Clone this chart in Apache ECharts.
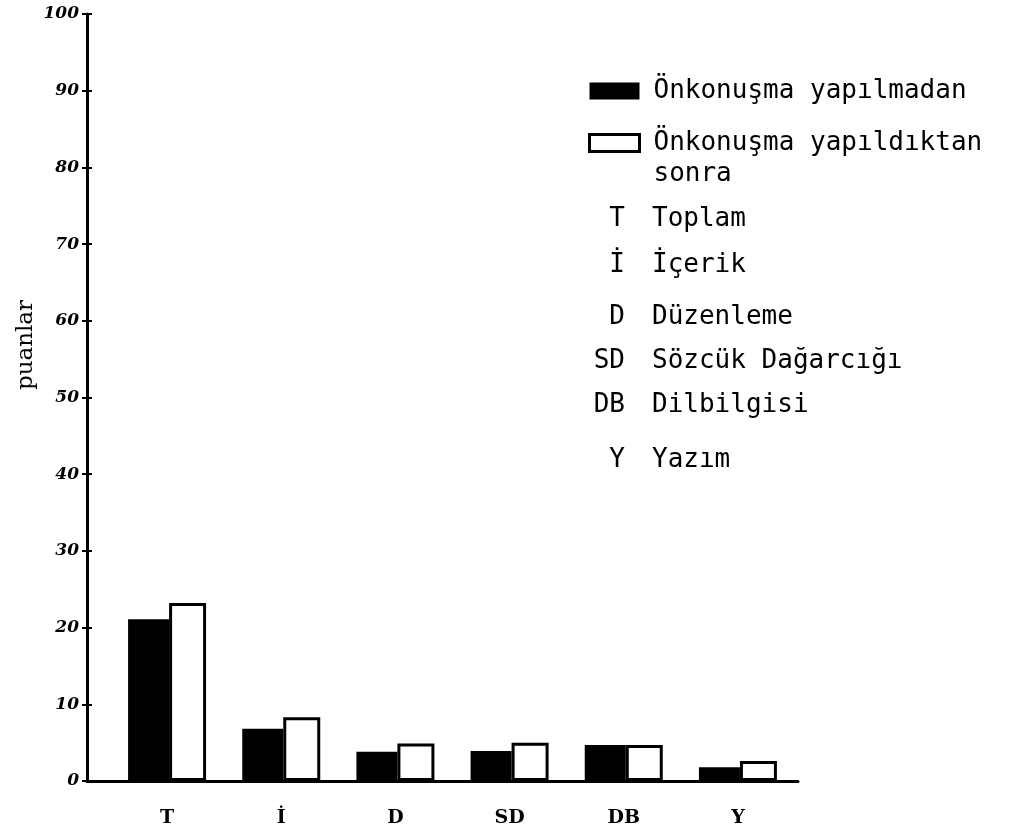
<!DOCTYPE html>
<html>
<head>
<meta charset="utf-8">
<script src="https://cdn.jsdelivr.net/npm/echarts@6/dist/echarts.min.js"></script>
<style>
html,body{margin:0;padding:0;background:#fff;}
#chart{width:1015px;height:836px;}
</style>
</head>
<body>
<div id="chart"></div>
<script>
// ---- data ----
const categories = ['T', 'İ', 'D', 'SD', 'DB', 'Y'];
const seriesNames = ['Önkonuşma yapılmadan', 'Önkonuşma yapıldıktan sonra'];
const valuesBefore = [21.1, 6.8, 3.8, 3.9, 4.7, 1.8];
const valuesAfter = [23.2, 8.3, 4.9, 5.0, 4.7, 2.6];
const abbreviations = ['T', 'İ', 'D', 'SD', 'DB', 'Y'];
const abbreviationNames = ['Toplam', 'İçerik', 'Düzenleme', 'Sözcük Dağarcığı', 'Dilbilgisi', 'Yazım'];
const yAxisTitle = 'puanlar';
const yMin = 0, yMax = 100, yStep = 10;

// ---- layout ----
const axisLeft = 87, plotLeft = 110, plotRightEdge = 795, axisRightEdge = 798;
const plotTop = 14, baseY = 781;
const W = 1015, H = 836;
const legendFont = 'DejaVu Sans Mono';
const legendSize = 26;
const abbrRowsY = [219, 265, 317, 361, 405, 460];

const chart = echarts.init(document.getElementById('chart'), null, {renderer: 'canvas'});

const graphic = [{
  type: 'text', x: 26, y: 345, rotation: Math.PI / 2,
  style: {text: yAxisTitle, font: '23px "DejaVu Serif"', fill: '#000', align: 'center', verticalAlign: 'middle'}
}];
abbreviations.forEach((a, i) => {
  graphic.push({type: 'text', x: 625, y: abbrRowsY[i],
    style: {text: a, font: legendSize + 'px "' + legendFont + '"', fill: '#000', align: 'right', verticalAlign: 'middle'}});
  graphic.push({type: 'text', x: 652, y: abbrRowsY[i],
    style: {text: abbreviationNames[i], font: legendSize + 'px "' + legendFont + '"', fill: '#000', align: 'left', verticalAlign: 'middle'}});
});

const option = {
  backgroundColor: '#fff',
  animation: false,
  grid: [
    {left: axisLeft, right: W - axisRightEdge, top: plotTop, bottom: H - baseY},
    {left: plotLeft, right: W - plotRightEdge, top: plotTop, bottom: H - baseY},
    {left: axisLeft, right: W - axisRightEdge, top: plotTop, bottom: H - baseY}
  ],
  legend: {
    orient: 'vertical', left: 588, top: 75.5, padding: 0,
    itemWidth: 50, itemHeight: 17, itemGap: -10, icon: 'rect',
    selectedMode: false,
    textStyle: {fontFamily: legendFont, fontSize: legendSize, color: '#000', lineHeight: 31, padding: [0, 0, 0, 9]},
    formatter: name => name.indexOf(' sonra') >= 0 ? '\n' + name.replace(' sonra', '\nsonra') : name,
    data: [
      {name: seriesNames[0]},
      {name: seriesNames[1], itemStyle: {color: '#fff', borderColor: '#000', borderWidth: 3}}
    ]
  },
  xAxis: [
    {gridIndex: 0, type: 'value', min: 0, max: 1,
      axisLine: {show: true, lineStyle: {color: '#000', width: 3}},
      axisTick: {show: false}, axisLabel: {show: false}, splitLine: {show: false}},
    {gridIndex: 1, type: 'category', data: categories,
      axisLine: {show: false}, axisTick: {show: false}, splitLine: {show: false},
      axisLabel: {margin: 28, fontFamily: 'DejaVu Serif', fontWeight: 'bold', fontSize: 19, color: '#000'}},
    {gridIndex: 2, type: 'value', min: 0, max: 1, show: false}
  ],
  yAxis: [
    {gridIndex: 0, type: 'value', position: 'left', min: yMin, max: yMax, interval: yStep,
      axisLine: {show: true, lineStyle: {color: '#000', width: 3}},
      axisTick: {show: true, length: 5, lineStyle: {color: '#000', width: 2}},
      axisLabel: {margin: 8, fontFamily: 'DejaVu Serif', fontStyle: 'italic', fontWeight: 'bold', fontSize: 17, color: '#000'},
      splitLine: {show: false}},
    {gridIndex: 1, type: 'value', min: yMin, max: yMax, show: false},
    {gridIndex: 2, type: 'value', position: 'left', min: yMin, max: yMax, interval: yStep,
      axisLine: {show: false},
      axisTick: {show: true, inside: true, length: 5, lineStyle: {color: '#000', width: 2}},
      axisLabel: {show: false}, splitLine: {show: false}}
  ],
  graphic: graphic,
  series: [
    {name: seriesNames[0], type: 'bar', xAxisIndex: 1, yAxisIndex: 1, data: valuesBefore,
      barWidth: 41, barGap: '0%',
      itemStyle: {color: '#000', borderColor: '#000', borderWidth: 0}},
    {name: seriesNames[1], type: 'bar', xAxisIndex: 1, yAxisIndex: 1, data: valuesAfter,
      barWidth: 37, barGap: '0%',
      itemStyle: {color: '#fff', borderColor: '#000', borderWidth: 3}}
  ]
};
chart.setOption(option);
</script>
</body>
</html>
